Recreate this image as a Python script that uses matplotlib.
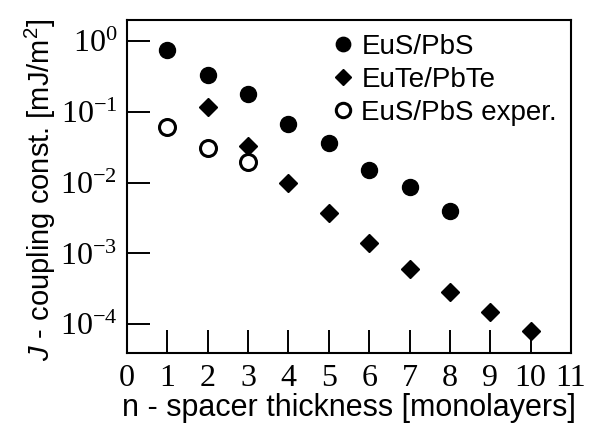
"""Interlayer coupling constant vs spacer thickness (log scale)."""

import math
import matplotlib
matplotlib.use("Agg")
import matplotlib.pyplot as plt
from matplotlib.ticker import FixedLocator, FuncFormatter, NullLocator

plt.rcParams["mathtext.fontset"] = "custom"
plt.rcParams["mathtext.it"] = "Liberation Sans:italic"
plt.rcParams["mathtext.rm"] = "Liberation Sans"

# data
n_eus      = [1, 2, 3, 4, 5, 6, 7, 8]
j_eus      = [0.75, 0.33, 0.18, 0.067, 0.036, 0.015, 0.0087, 0.0040]
n_eute     = [2, 3, 4, 5, 6, 7, 8, 9, 10]
j_eute     = [0.117, 0.033, 0.010, 0.0037, 0.0014, 0.0006, 0.00028, 0.000149, 0.000080]
n_exp      = [1, 2, 3]
j_exp      = [0.061, 0.031, 0.0195]

x_ticks = list(range(0, 12))
y_ticks = [1e0, 1e-1, 1e-2, 1e-3, 1e-4]

SERIF = "Liberation Serif"
SANS = "Liberation Sans"


def main():
    fig = plt.figure(figsize=(6.02, 4.30), dpi=100)
    ax = fig.add_axes([0.211, 0.179, 0.7375, 0.7745])

    ax.plot(n_eus, j_eus, "o", ms=11.5, color="black", mec="black", label="EuS/PbS")
    ax.plot(n_eute, j_eute, "D", ms=9.0, color="black", mec="black", label="EuTe/PbTe")
    ax.plot(n_exp, j_exp, "o", ms=11.5, mfc="white", mec="black", mew=2.2,
            label="EuS/PbS exper.")

    ax.set_yscale("log")
    ax.set_xlim(0, 11)
    ax.set_ylim(3.9e-5, 2.0)

    ax.xaxis.set_major_locator(FixedLocator(x_ticks))
    ax.yaxis.set_major_locator(FixedLocator(y_ticks))
    ax.yaxis.set_minor_locator(NullLocator())
    ax.yaxis.set_major_formatter(FuncFormatter(
        lambda v, _: r"$\mathregular{10^{%d}}$" % round(math.log10(v))))

    ax.tick_params(axis="both", which="major", direction="in", length=16.5, width=1.4,
                   labelsize=23, top=False, right=False)
    ax.tick_params(axis="x", pad=8)
    ax.tick_params(axis="y", pad=7)
    for lab in ax.get_xticklabels() + ax.get_yticklabels():
        lab.set_fontfamily(SERIF)
    for sp in ax.spines.values():
        sp.set_linewidth(1.5)

    ax.set_xlabel("n - spacer thickness [monolayers]", fontsize=22, family=SANS, labelpad=0)
    ax.set_ylabel(r"$\mathit{J}$ - coupling const. [mJ/m$^\mathregular{2}$]",
                  fontsize=21, family=SANS)
    ax.yaxis.set_label_coords(-0.155, 0.49)

    ax.legend(loc="upper right", frameon=False,
              prop={"family": SANS, "size": 20}, handletextpad=0.15,
              handlelength=1.0, labelspacing=0.25, borderaxespad=0.1,
              markerscale=0.9)

    fig.savefig("out.png", dpi=100)


if __name__ == "__main__":
    main()
